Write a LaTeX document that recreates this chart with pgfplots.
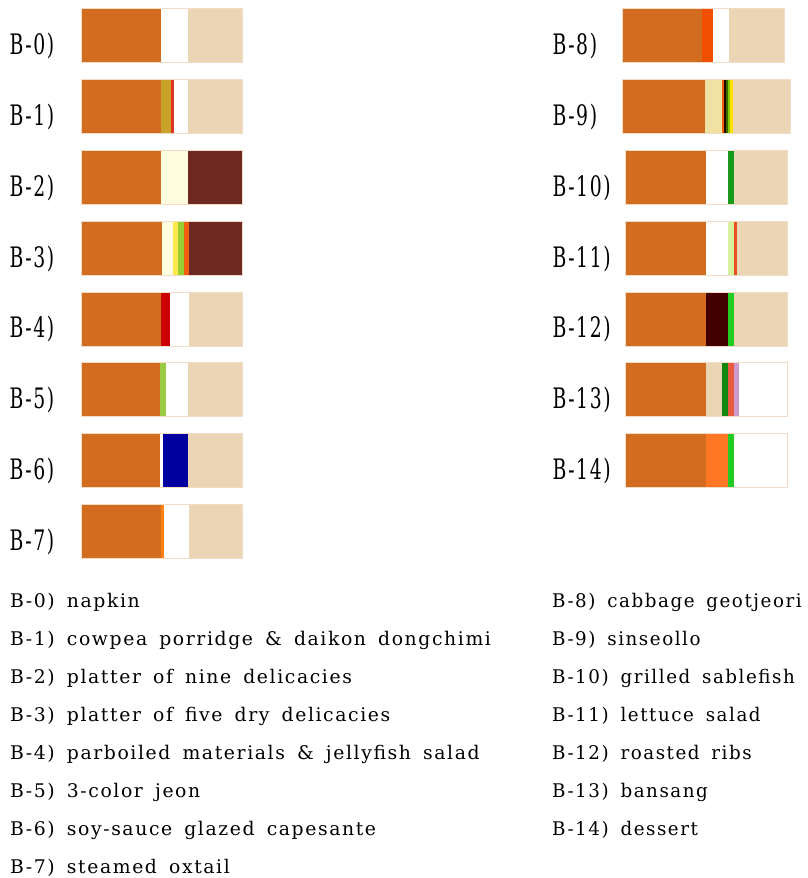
\documentclass[border=0pt]{standalone}
\usepackage{pgfplots}
\pgfplotsset{compat=1.18}
\usepackage{fontspec}
\setmainfont{DejaVu Serif}[LetterSpace=8.5, WordSpace=1.6]
\definecolor{choc}{HTML}{D26C1F}
\definecolor{tanb}{HTML}{EAD5B4}
\definecolor{brownd}{HTML}{6E2822}
\definecolor{creamy}{HTML}{FFFDE0}
\definecolor{goldb}{HTML}{C9A22A}
\definecolor{redb}{HTML}{E03424}
\definecolor{yelb}{HTML}{FFE84A}
\definecolor{ygb}{HTML}{9ACD32}
\definecolor{orb}{HTML}{F06010}
\definecolor{redc}{HTML}{CC0000}
\definecolor{grb}{HTML}{99CC44}
\definecolor{navyb}{HTML}{0000A0}
\definecolor{orl}{HTML}{FF8010}
\definecolor{redor}{HTML}{F04E00}
\definecolor{paley}{HTML}{F0E2A2}
\definecolor{blk}{HTML}{1A0A00}
\definecolor{dolive}{HTML}{3A6A00}
\definecolor{grnb}{HTML}{88CC00}
\definecolor{yel2}{HTML}{FFE000}
\definecolor{forest}{HTML}{1A9A1A}
\definecolor{lgreen}{HTML}{D8F0A0}
\definecolor{oredb}{HTML}{E85020}
\definecolor{maroonb}{HTML}{420000}
\definecolor{limeb}{HTML}{22CC22}
\definecolor{dkgreen}{HTML}{118811}
\definecolor{tomatob}{HTML}{E85A40}
\definecolor{lilac}{HTML}{CC9ACC}
\definecolor{orbr}{HTML}{FF7722}
\definecolor{peach}{HTML}{F2DCC8}
% segment: x0, x1, top, bottom, colour
\newcommand{\seg}[5]{\addplot[fill=#5, draw=none, forget plot] coordinates {(#1,#3) (#2,#3) (#2,#4) (#1,#4)};}
\newcommand{\outl}[4]{\addplot[draw=peach, line width=0.8pt, fill=none, forget plot] coordinates {(#1,#3) (#2,#3) (#2,#4) (#1,#4) (#1,#3)};}
\newcommand{\lbl}[3]{\node[anchor=base west, inner sep=0pt] at (axis cs:#1,#2) {\scalebox{1}[1.5]{#3}};}
\newcommand{\leg}[3]{\node[anchor=base west, inner sep=0pt] at (axis cs:#1,#2) {#3};}
\newcommand{\legr}[3]{\node[anchor=base west, inner sep=0pt] at (axis cs:#1,#2) {\scalebox{0.972}[1]{#3}};}
\begin{document}
\begin{tikzpicture}
\begin{axis}[
  width=807pt, height=878pt, scale only axis,
  xmin=0, xmax=807, ymin=0, ymax=878, y dir=reverse,
  hide axis, clip=false,
  font=\fontsize{18.8pt}{22pt}\selectfont,
]
% ---- left column ----
% B-0
\seg{81}{160.7}{8.3}{62.3}{choc}
\seg{160.7}{187.7}{8.3}{62.3}{white}
\seg{187.7}{241.7}{8.3}{62.3}{tanb}
\seg{241.7}{242.7}{8.3}{62.3}{choc}
\outl{81}{242.7}{8.3}{62.3}
% B-1
\seg{81}{160.7}{79.2}{133.2}{choc}
\seg{160.7}{171}{79.2}{133.2}{goldb}
\seg{171}{173.7}{79.2}{133.2}{redb}
\seg{173.7}{187.7}{79.2}{133.2}{white}
\seg{187.7}{242.7}{79.2}{133.2}{tanb}
\outl{81}{242.7}{79.2}{133.2}
% B-2
\seg{81}{160.7}{150.1}{204.1}{choc}
\seg{160.7}{187.7}{150.1}{204.1}{creamy}
\seg{187.7}{242.7}{150.1}{204.1}{brownd}
\outl{81}{242.7}{150.1}{204.1}
% B-3
\seg{81}{162}{221.0}{275.0}{choc}
\seg{162}{172.7}{221.0}{275.0}{creamy}
\seg{172.7}{178}{221.0}{275.0}{yelb}
\seg{178}{183.7}{221.0}{275.0}{ygb}
\seg{183.7}{189}{221.0}{275.0}{orb}
\seg{189}{242.7}{221.0}{275.0}{brownd}
\outl{81}{242.7}{221.0}{275.0}
% B-4
\seg{81}{161.3}{291.9}{345.9}{choc}
\seg{161.3}{170}{291.9}{345.9}{redc}
\seg{170}{188.7}{291.9}{345.9}{white}
\seg{188.7}{242.7}{291.9}{345.9}{tanb}
\outl{81}{242.7}{291.9}{345.9}
% B-5
\seg{81}{160}{362.8}{416.8}{choc}
\seg{160}{165.7}{362.8}{416.8}{grb}
\seg{165.7}{187.7}{362.8}{416.8}{white}
\seg{187.7}{242.7}{362.8}{416.8}{tanb}
\outl{81}{242.7}{362.8}{416.8}
% B-6
\seg{81}{160.3}{433.7}{487.7}{choc}
\seg{160.3}{162.7}{433.7}{487.7}{white}
\seg{162.7}{187.7}{433.7}{487.7}{navyb}
\seg{187.7}{242.7}{433.7}{487.7}{tanb}
\outl{81}{242.7}{433.7}{487.7}
% B-7
\seg{81}{161}{504.6}{558.6}{choc}
\seg{161}{164.3}{504.6}{558.6}{orl}
\seg{164.3}{188.7}{504.6}{558.6}{white}
\seg{188.7}{242.7}{504.6}{558.6}{tanb}
\outl{81}{242.7}{504.6}{558.6}
% ---- right column ----
% B-8
\seg{622.7}{702}{8.3}{62.3}{choc}
\seg{702}{712.7}{8.3}{62.3}{redor}
\seg{712.7}{729}{8.3}{62.3}{white}
\seg{729}{784.3}{8.3}{62.3}{tanb}
\outl{622.7}{784.3}{8.3}{62.3}
% B-9
\seg{622.7}{704.5}{79.2}{133.2}{choc}
\seg{704.5}{722.3}{79.2}{133.2}{paley}
\seg{722.3}{724.3}{79.2}{133.2}{orb}
\seg{724.3}{726.3}{79.2}{133.2}{blk}
\seg{726.3}{727.8}{79.2}{133.2}{dolive}
\seg{727.8}{730}{79.2}{133.2}{grnb}
\seg{730}{732.5}{79.2}{133.2}{yel2}
\seg{732.5}{790}{79.2}{133.2}{tanb}
\outl{622.7}{790}{79.2}{133.2}
% B-10
\seg{625.7}{706.3}{150.1}{204.1}{choc}
\seg{706.3}{728.3}{150.1}{204.1}{white}
\seg{728.3}{734}{150.1}{204.1}{forest}
\seg{734}{787.7}{150.1}{204.1}{tanb}
\outl{625.7}{787.7}{150.1}{204.1}
% B-11
\seg{625.7}{706.3}{221.0}{275.0}{choc}
\seg{706.3}{728.3}{221.0}{275.0}{white}
\seg{728.3}{734.3}{221.0}{275.0}{lgreen}
\seg{734.3}{737}{221.0}{275.0}{oredb}
\seg{737}{787.7}{221.0}{275.0}{tanb}
\outl{625.7}{787.7}{221.0}{275.0}
% B-12
\seg{625.7}{706.3}{291.9}{345.9}{choc}
\seg{706.3}{728.3}{291.9}{345.9}{maroonb}
\seg{728.3}{734}{291.9}{345.9}{limeb}
\seg{734}{787.7}{291.9}{345.9}{tanb}
\outl{625.7}{787.7}{291.9}{345.9}
% B-13
\seg{625.7}{706.3}{362.8}{416.8}{choc}
\seg{706.3}{722.3}{362.8}{416.8}{tanb}
\seg{722.3}{727.7}{362.8}{416.8}{dkgreen}
\seg{727.7}{733.7}{362.8}{416.8}{tomatob}
\seg{733.7}{739.3}{362.8}{416.8}{lilac}
\seg{739.3}{787.7}{362.8}{416.8}{white}
\outl{625.7}{787.7}{362.8}{416.8}
% B-14
\seg{625.7}{706.3}{433.7}{487.7}{choc}
\seg{706.3}{728.3}{433.7}{487.7}{orbr}
\seg{728.3}{734}{433.7}{487.7}{limeb}
\seg{734}{787.7}{433.7}{487.7}{white}
\outl{625.7}{787.7}{433.7}{487.7}
% ---- bar labels ----
\lbl{9.5}{54.3}{B-0)}
\lbl{9.5}{125.2}{B-1)}
\lbl{9.5}{196.1}{B-2)}
\lbl{9.5}{267.0}{B-3)}
\lbl{9.5}{337.9}{B-4)}
\lbl{9.5}{408.8}{B-5)}
\lbl{9.5}{479.7}{B-6)}
\lbl{9.5}{550.6}{B-7)}
\lbl{552.3}{54.3}{B-8)}
\lbl{552.3}{125.2}{B-9)}
\lbl{552.3}{196.1}{B-10)}
\lbl{552.3}{267.0}{B-11)}
\lbl{552.3}{337.9}{B-12)}
\lbl{552.3}{408.8}{B-13)}
\lbl{552.3}{479.7}{B-14)}
% ---- legend text ----
\leg{10}{607.5}{B-0) napkin}
\leg{10}{645.5}{B-1) cowpea porridge \& daikon dongchimi}
\leg{10}{683.5}{B-2) platter of nine delicacies}
\leg{10}{721.5}{B-3) platter of five dry delicacies}
\leg{10}{759.5}{B-4) parboiled materials \& jellyfish salad}
\leg{10}{797.5}{B-5) 3-color jeon}
\leg{10}{835.5}{B-6) soy-sauce glazed capesante}
\leg{10}{873.5}{B-7) steamed oxtail}
\legr{552}{607.5}{B-8) cabbage geotjeori}
\legr{552}{645.5}{B-9) sinseollo}
\legr{552}{683.5}{B-10) grilled sablefish}
\legr{552}{721.5}{B-11) lettuce salad}
\legr{552}{759.5}{B-12) roasted ribs}
\legr{552}{797.5}{B-13) bansang}
\legr{552}{835.5}{B-14) dessert}
\end{axis}
\pgfresetboundingbox
\useasboundingbox (current axis.south west) rectangle (current axis.north east);
\end{tikzpicture}
\end{document}
